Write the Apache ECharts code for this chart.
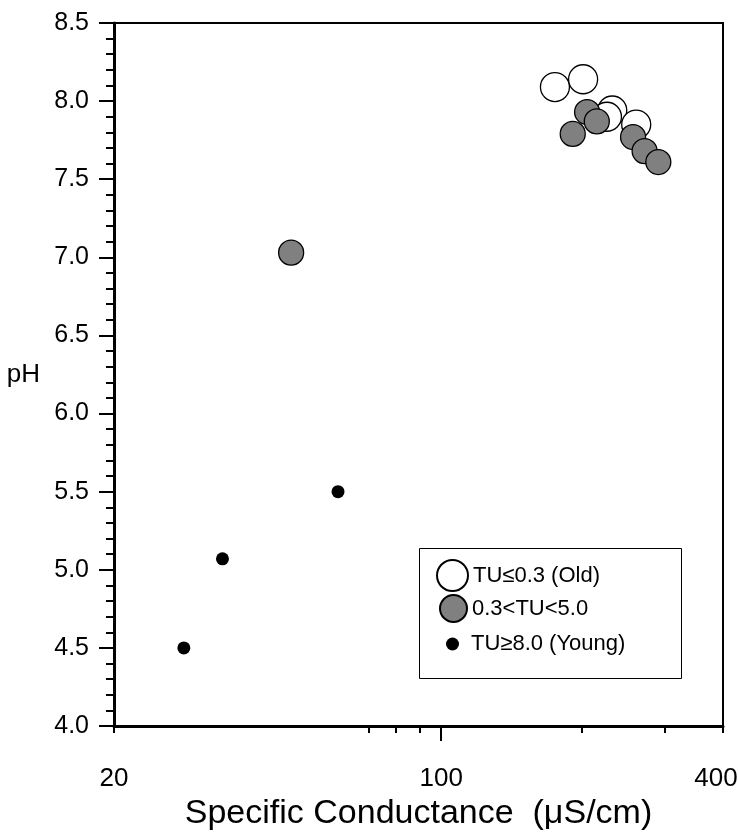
<!DOCTYPE html>
<html>
<head>
<meta charset="utf-8">
<script src="https://cdn.jsdelivr.net/npm/echarts@6/dist/echarts.min.js"></script>
<style>html,body{margin:0;padding:0;background:#fff}#c{width:738px;height:836px}</style>
</head>
<body>
<div id="c"></div>
<script>
// Data (Specific conductance µS/cm, pH)
const oldCond = [175, 201, 232, 226, 261];
const oldPH   = [8.09, 8.14, 7.94, 7.90, 7.85];
const midCond = [47.8, 205, 215, 191, 257, 272, 291];
const midPH   = [7.03, 7.93, 7.87, 7.79, 7.77, 7.68, 7.61];
const youngCond = [28.2, 34.1, 60.2];
const youngPH   = [4.50, 5.07, 5.50];
const seriesNames = ['TU≤0.3 (Old)', '0.3<TU<5.0', 'TU≥8.0 (Young)'];
const xMajorLabels = [20, 100, 400];
const xMinorTicks = [20, 70, 80, 90, 200, 300, 400];

const zip = (a, b) => a.map((v, i) => [v, b[i]]);
const FONT = 'Liberation Sans, Arial, sans-serif';

const chart = echarts.init(document.getElementById('c'));
chart.setOption({
  animation: false,
  backgroundColor: '#fff',
  grid: { left: 114, right: 15, top: 23, bottom: 110, show: true, borderColor: '#000', borderWidth: 2,
    backgroundColor: 'transparent', containLabel: false, outerBoundsMode: 'none' },
  xAxis: [{
    type: 'log', logBase: 10, min: 20, max: 400,
    name: 'Specific Conductance  (\u03bcS/cm)', nameLocation: 'middle', nameGap: 86,
    nameTextStyle: { fontFamily: FONT, fontSize: 34, color: '#000', verticalAlign: 'middle' },
    axisLine: { show: true, lineStyle: { color: '#000', width: 3 } },
    axisTick: { show: true, inside: false, length: 15, lineStyle: { color: '#000', width: 2 }, customValues: [100] },
    axisLabel: { customValues: xMajorLabels, fontFamily: FONT, fontSize: 26, color: '#000', margin: 40,
      formatter: v => (v >= 400 ? '{r|' + v + '}' : String(v)),
      rich: { r: { fontFamily: FONT, fontSize: 26, color: '#000', padding: [0, 14, 0, 0] } } },
    splitLine: { show: false }, minorTick: { show: false }
  }, {
    type: 'log', logBase: 10, min: 20, max: 400, position: 'bottom',
    axisLine: { show: false },
    axisTick: { show: true, inside: false, length: 7, lineStyle: { color: '#000', width: 2 }, customValues: xMinorTicks },
    axisLabel: { show: false }, splitLine: { show: false }
  }],
  yAxis: {
    type: 'value', min: 4, max: 8.5, interval: 0.5,
    name: 'pH', nameLocation: 'middle', nameRotate: 0, nameGap: 74,
    nameTextStyle: { fontFamily: FONT, fontSize: 26, color: '#000', align: 'right', verticalAlign: 'middle' },
    axisLine: { show: true, lineStyle: { color: '#000', width: 3 } },
    axisTick: { show: true, inside: false, length: 15, lineStyle: { color: '#000', width: 2 } },
    minorTick: { show: true, splitNumber: 5, length: 8, lineStyle: { color: '#000', width: 2 } },
    axisLabel: { fontFamily: FONT, fontSize: 25, color: '#000', margin: 25, formatter: v => v.toFixed(1) },
    splitLine: { show: false }
  },
  legend: [
    { data: [seriesNames[0]], left: 436, top: 559, itemWidth: 31, itemHeight: 31, itemGap: 0, padding: 0,
      textStyle: { fontFamily: FONT, fontSize: 22, color: '#000', padding: [0, 0, 0, 0] } },
    { data: [seriesNames[1]], left: 439, top: 594, itemWidth: 27, itemHeight: 27, itemGap: 0, padding: 0,
      textStyle: { fontFamily: FONT, fontSize: 22, color: '#000', padding: [0, 0, 0, 0] } },
    { data: [seriesNames[2]], left: 446, top: 633, itemWidth: 13, itemHeight: 13, itemGap: 0, padding: 0,
      textStyle: { fontFamily: FONT, fontSize: 22, color: '#000', padding: [0, 0, 0, 7] } }
  ],
  graphic: [{ type: 'rect', left: 417, top: 546, shape: { width: 262, height: 130 },
    style: { fill: 'none', stroke: '#000', lineWidth: 1 }, z: 10, silent: true }],
  series: [
    { name: seriesNames[0], type: 'scatter', data: zip(oldCond, oldPH), symbol: 'circle', symbolSize: 29,
      itemStyle: { color: '#fff', borderColor: '#000', borderWidth: 1.3, opacity: 1 }, z: 2 },
    { name: seriesNames[1], type: 'scatter', data: zip(midCond, midPH), symbol: 'circle', symbolSize: 25,
      itemStyle: { color: '#808080', borderColor: '#000', borderWidth: 1.3, opacity: 1 }, z: 3 },
    { name: seriesNames[2], type: 'scatter', data: zip(youngCond, youngPH), symbol: 'circle', symbolSize: 13,
      itemStyle: { color: '#000', borderColor: '#000', borderWidth: 0, opacity: 1 }, z: 4 }
  ]
});
</script>
</body>
</html>
